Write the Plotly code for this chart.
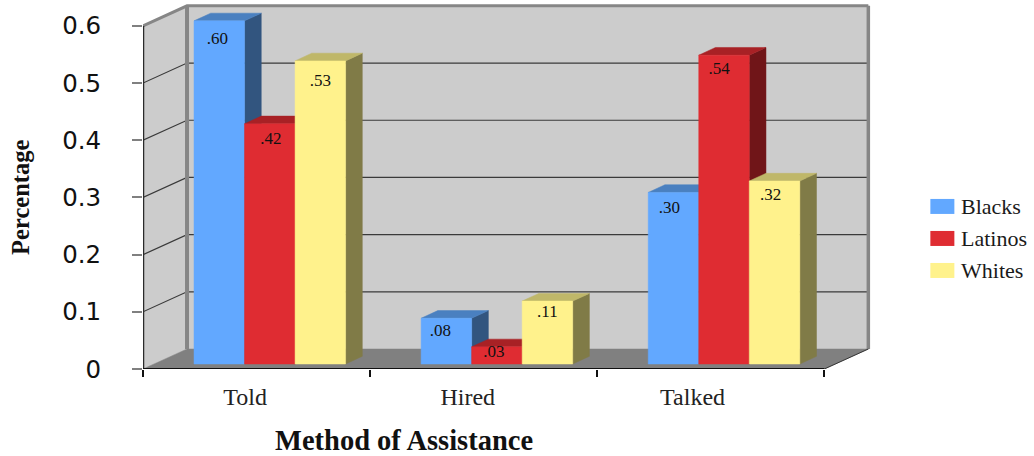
import plotly.graph_objects as go

# ---- data ----
categories = ["Told", "Hired", "Talked"]
blacks = [0.60, 0.08, 0.30]
latinos = [0.42, 0.03, 0.54]
whites = [0.53, 0.11, 0.32]
series_names = ["Blacks", "Latinos", "Whites"]
y_ticks = [0, 0.1, 0.2, 0.3, 0.4, 0.5, 0.6]
y_tick_labels = ["0", "0.1", "0.2", "0.3", "0.4", "0.5", "0.6"]

# ---- geometry ----
W, H = 1034, 456
L, BOT = 143, 369         # pixel position of the front-axis origin
PX_X = 227.0              # pixels per category
PX_Y = 571.67             # pixels per unit of value
X_MAX, Y_MAX = 3.21, 0.64
R_PX = L + X_MAX * PX_X
T_PX = BOT - Y_MAX * PX_Y

WALL_DX, WALL_DY = 44 / PX_X, 20 / PX_Y      # depth of the chart box
BAR_DX, BAR_DY = 16.7 / PX_X, 7.7 / PX_Y     # depth of a bar
BAR_X0 = 51 / PX_X                           # first bar left edge in group
BAR_W = 50.5 / PX_X
BAR_BASE = 5.0 / PX_Y

FACE = ["#62A8FF", "#DF2C32", "#FFF28C"]
TOP = ["#4A80C0", "#A82125", "#BFB769"]
SIDE = ["#32557F", "#701518", "#807B47"]
WALL = "#CCCCCC"
FLOOR = "#808080"
EDGE = "#868686"
GRID = "#3A3A3A"
SERIF = "Liberation Serif"
LABEL_DROP = [[19, 16, 21], [13, 6, 12], [16, 15, 15]]   # px below bar top
LABEL_SHIFT = [[-2, 1, 0], [-6, -3, 0], [-4, -5, -4]]    # px right of bar centre


def px(x):
    return (x - L) / (R_PX - L)


def py(y):
    return (BOT - y) / (BOT - T_PX)


def poly(xs, ys, color, name):
    return go.Scatter(
        x=xs + xs[:1], y=ys + ys[:1], mode="lines", fill="toself",
        fillcolor=color, line=dict(color=color, width=0.5),
        hoverinfo="skip", showlegend=False, name=name,
    )


fig = go.Figure()

# chart box: side wall, back wall, floor
fig.add_trace(poly([0, WALL_DX, WALL_DX, 0], [0, WALL_DY, 0.6 + WALL_DY, 0.6], WALL, "side wall"))
fig.add_trace(poly([WALL_DX, 3 + WALL_DX, 3 + WALL_DX, WALL_DX],
                   [WALL_DY, WALL_DY, 0.6 + WALL_DY, 0.6 + WALL_DY], WALL, "back wall"))
fig.add_trace(poly([0, 3, 3 + WALL_DX, WALL_DX], [0, 0, WALL_DY, WALL_DY], FLOOR, "floor"))


def line(xs, ys, color, width, name):
    fig.add_trace(go.Scatter(x=xs, y=ys, mode="lines", cliponaxis=False,
                             line=dict(color=color, width=width),
                             hoverinfo="skip", showlegend=False, name=name))


for v in y_ticks[1:-1]:
    line([0, WALL_DX, 3 + WALL_DX], [v, v + WALL_DY, v + WALL_DY], GRID, 1.2, "grid")
top = 0.6 + WALL_DY
line([0, WALL_DX, 3 + WALL_DX], [0.6, top, top], EDGE, 3, "top edge")
line([WALL_DX, WALL_DX], [WALL_DY, top], EDGE, 4, "back left edge")
line([3 + WALL_DX, 3 + WALL_DX], [WALL_DY, top], EDGE, 3.5, "back right edge")
line([3, 3 + WALL_DX], [0, WALL_DY], "#333333", 1, "floor edge")

# bars, drawn back to front in each group
all_series = [blacks, latinos, whites]
label_x, label_y, label_text = [], [], []
for g in range(len(categories)):
    for s, values in enumerate(all_series):
        v = values[g]
        x0 = g + BAR_X0 + s * BAR_W
        x1 = x0 + BAR_W
        y0 = BAR_BASE
        y1 = BAR_BASE + v
        nm = series_names[s]
        fig.add_trace(poly([x1, x1 + BAR_DX, x1 + BAR_DX, x1],
                           [y0, y0 + BAR_DY, y1 + BAR_DY, y1], SIDE[s], nm + " side"))
        fig.add_trace(poly([x0, x1, x1 + BAR_DX, x0 + BAR_DX],
                           [y1, y1, y1 + BAR_DY, y1 + BAR_DY], TOP[s], nm + " top"))
        fig.add_trace(poly([x0, x1, x1, x0], [y0, y0, y1, y1], FACE[s], nm))
        label_x.append((x0 + x1) / 2 + LABEL_SHIFT[g][s] / PX_X)
        label_y.append(y1 - LABEL_DROP[g][s] / PX_Y)
        label_text.append(f"{v:.2f}"[1:])

fig.add_trace(go.Scatter(x=label_x, y=label_y, text=label_text, mode="text",
                         textposition="middle center",
                         textfont=dict(family=SERIF, size=17, color="#111111"),
                         hoverinfo="skip", showlegend=False, name="labels"))

# axis lines
line([0, 0], [0, 0.6], "#2A2A2A", 2.5, "y axis")
line([0, 3], [0, 0], "#111111", 1.8, "x axis")

# legend
shapes, annotations = [], []
for i, name in enumerate(series_names):
    yc = 206.5 + i * 32
    shapes.append(dict(type="rect", xref="paper", yref="paper", x0=px(930), x1=px(954),
                       y0=py(yc - 7.5), y1=py(yc + 7.5), fillcolor=FACE[i], line_width=0))
    annotations.append(dict(text=name, xref="paper", yref="paper", x=px(959), y=py(yc),
                            xanchor="left", yanchor="middle", showarrow=False,
                            font=dict(family=SERIF, size=22, color="#1A1A1A")))

annotations.append(dict(text="<b>Method of Assistance</b>", xref="paper", yref="paper",
                        x=px(403.5), y=py(440), xanchor="center", yanchor="middle",
                        showarrow=False, font=dict(family=SERIF, size=28.5, color="#111111")))
annotations.append(dict(text="<b>Percentage</b>", xref="paper", yref="paper",
                        x=px(21), y=py(197), xanchor="center", yanchor="middle", textangle=-90,
                        showarrow=False, font=dict(family=SERIF, size=24.5, color="#111111")))

fig.update_layout(
    width=W, height=H, autosize=False,
    margin=dict(l=L, r=W - R_PX, t=T_PX, b=H - BOT, pad=0),
    paper_bgcolor="white", plot_bgcolor="white", showlegend=False,
    shapes=shapes, annotations=annotations,
    xaxis=dict(range=[0, X_MAX], showgrid=False, zeroline=False, showline=False,
               tickmode="array", tickvals=[0.45, 1.43, 2.42], ticktext=categories,
               ticks="outside", ticklen=0, ticklabelstandoff=6,
               tickfont=dict(family=SERIF, size=24, color="#222222"),
               minor=dict(tickmode="array", tickvals=[0, 1, 2, 3], ticks="outside",
                          ticklen=7, tickwidth=1.5, tickcolor="#111111", showgrid=False)),
    yaxis=dict(range=[0, Y_MAX], showgrid=False, zeroline=False, showline=False,
               tickmode="array", tickvals=y_ticks, ticktext=y_tick_labels,
               ticks="outside", ticklen=10, tickwidth=1.5, tickcolor="#808080",
               ticklabelstandoff=26,
               tickfont=dict(family="DejaVu Sans", size=24.5, color="#111111")),
)

fig.write_html("out.html", config=dict(displayModeBar=False),
               post_script="document.body.style.margin='0';")
